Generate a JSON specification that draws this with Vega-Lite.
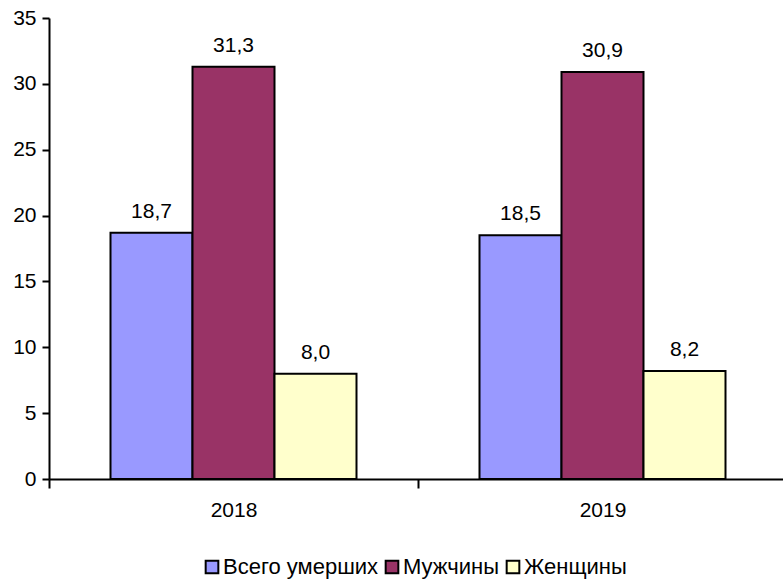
{
  "$schema": "https://vega.github.io/schema/vega-lite/v6.json",
  "autosize": {"type": "none"},
  "padding": {"left": 49, "top": 18, "right": 0, "bottom": 100},
  "width": 738,
  "height": 461,
  "background": "white",
  "config": {
    "view": {"stroke": null},
    "font": "Liberation Sans",
    "locale": {"number": {"decimal": ",", "thousands": " ", "grouping": [3], "currency": ["", ""]}}
  },
  "data": {
    "values": [
      {"year": "2018", "group": "Всего умерших", "value": 18.7},
      {"year": "2018", "group": "Мужчины", "value": 31.3},
      {"year": "2018", "group": "Женщины", "value": 8.0},
      {"year": "2019", "group": "Всего умерших", "value": 18.5},
      {"year": "2019", "group": "Мужчины", "value": 30.9},
      {"year": "2019", "group": "Женщины", "value": 8.2}
    ]
  },
  "encoding": {
    "x": {
      "field": "year", "type": "nominal",
      "scale": {"paddingInner": 0, "paddingOuter": 0},
      "axis": {
        "title": null, "labelAngle": 0, "labelFontSize": 21, "labelColor": "black",
        "labelPadding": 11, "tickBand": "extent", "tickSize": 9, "tickWidth": 2,
        "tickColor": "black", "domainColor": "black", "domainWidth": 2
      }
    },
    "xOffset": {
      "field": "group", "type": "nominal",
      "sort": ["Всего умерших", "Мужчины", "Женщины"],
      "scale": {"paddingInner": 0, "paddingOuter": 0.75}
    },
    "y": {
      "field": "value", "type": "quantitative",
      "scale": {"domain": [0, 35], "nice": false},
      "axis": {
        "title": null, "values": [0, 5, 10, 15, 20, 25, 30, 35], "grid": false,
        "labelFontSize": 21, "labelColor": "black", "labelPadding": 6,
        "tickSize": 7, "tickWidth": 2, "tickColor": "black",
        "domainColor": "black", "domainWidth": 2
      }
    }
  },
  "layer": [
    {
      "mark": {"type": "bar", "stroke": "black", "strokeWidth": 2},
      "encoding": {
        "color": {
          "field": "group", "type": "nominal",
          "sort": ["Всего умерших", "Мужчины", "Женщины"],
          "scale": {"domain": ["Всего умерших", "Мужчины", "Женщины"], "range": ["#9999FF", "#993366", "#FFFFCC"]},
          "legend": {
            "title": null, "orient": "none", "direction": "horizontal",
            "legendX": 152, "legendY": 538,
            "symbolType": "square", "symbolSize": 160, "symbolStrokeColor": "black",
            "symbolStrokeWidth": 2, "symbolOpacity": 1,
            "labelFontSize": 22, "labelColor": "black", "labelOffset": 0,
            "columnPadding": 2
          }
        }
      }
    },
    {
      "mark": {"type": "text", "baseline": "bottom", "dy": -11, "fontSize": 21, "color": "black"},
      "encoding": {
        "text": {"field": "value", "type": "quantitative", "format": ".1f"}
      }
    }
  ]
}
